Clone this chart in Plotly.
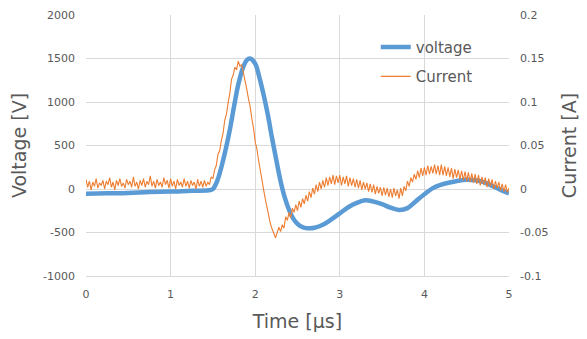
import numpy as np
import plotly.graph_objects as go

# Voltage (V)
v_time = [0, 0.25, 0.5, 0.75, 1.0, 1.25, 1.45, 1.5, 1.55, 1.6, 1.65, 1.7, 1.75, 1.8, 1.85,
          1.9, 1.94, 2.0, 2.05, 2.1, 2.15, 2.2, 2.25, 2.3, 2.35, 2.4, 2.45, 2.5, 2.55, 2.6,
          2.65, 2.7, 2.8, 2.9, 3.0, 3.1, 3.2, 3.3, 3.4, 3.5, 3.6, 3.7, 3.8, 3.9, 4.0, 4.1,
          4.2, 4.3, 4.4, 4.5, 4.6, 4.7, 4.8, 4.9, 5.0]
voltage = [-55, -50, -45, -35, -30, -20, -15, 0, 90, 250, 450, 680, 950, 1200, 1380,
           1480, 1500, 1440, 1280, 1080, 850, 580, 330, 90, -100, -240, -340, -400, -435, -450,
           -452, -445, -410, -350, -280, -210, -160, -130, -145, -175, -215, -240, -220, -140, -60, 10,
           50, 75, 95, 105, 100, 80, 35, -10, -50]

# Current (A) sampled every 0.02 us from the picture
c_step = 0.02
current = [
    0.011, 0.002, 0.009, -0.001, 0.008, 0.003, 0.012, 0.001, 0.007, 0.004,
    0.010, 0.000, 0.009, 0.005, 0.013, 0.002, 0.008, -0.001, 0.010, 0.004,
    0.012, 0.003, 0.007, 0.001, 0.011, 0.005, 0.009, 0.002, 0.014, 0.003,
    0.008, 0.000, 0.010, 0.004, 0.012, 0.002, 0.009, 0.005, 0.015, 0.003,
    0.009, 0.001, 0.011, 0.004, 0.008, 0.002, 0.013, 0.005, 0.010, 0.001,
    0.012, 0.003, 0.009, 0.000, 0.011, 0.004, 0.008, 0.002, 0.012, 0.003,
    0.009, 0.001, 0.010, 0.004, 0.008, 0.000, 0.011, 0.003, 0.009, 0.002,
    0.010, 0.003, 0.008, 0.005, 0.014, 0.012, 0.022, 0.027, 0.040, 0.044,
    0.056, 0.064, 0.079, 0.086, 0.099, 0.110, 0.126, 0.131, 0.140, 0.137,
    0.147, 0.141, 0.143, 0.134, 0.128, 0.115, 0.104, 0.095, 0.081, 0.070,
    0.054, 0.046, 0.033, 0.021, 0.006, -0.001, -0.012, -0.022, -0.034, -0.040,
    -0.046, -0.051, -0.056, -0.050, -0.044, -0.049, -0.041, -0.045, -0.032, -0.036,
    -0.027, -0.033, -0.022, -0.027, -0.018, -0.025, -0.014, -0.021, -0.011, -0.017,
    -0.007, -0.014, -0.003, -0.010, 0.001, -0.006, 0.005, -0.003, 0.008, 0.000,
    0.010, 0.002, 0.013, 0.004, 0.014, 0.006, 0.016, 0.005, 0.015, 0.007,
    0.016, 0.004, 0.014, 0.006, 0.015, 0.003, 0.013, 0.004, 0.012, 0.002,
    0.011, 0.001, 0.010, -0.001, 0.008, 0.000, 0.007, -0.003, 0.006, -0.004,
    0.005, -0.006, 0.003, -0.005, 0.002, -0.008, 0.002, -0.007, 0.001, -0.009,
    0.000, -0.010, 0.001, -0.008, -0.001, -0.011, 0.001, -0.008, 0.003, -0.002,
    0.009, 0.003, 0.013, 0.008, 0.017, 0.011, 0.021, 0.013, 0.024, 0.015,
    0.025, 0.016, 0.027, 0.017, 0.026, 0.018, 0.028, 0.017, 0.027, 0.016,
    0.028, 0.016, 0.026, 0.015, 0.025, 0.014, 0.024, 0.012, 0.023, 0.013,
    0.022, 0.011, 0.021, 0.010, 0.020, 0.009, 0.019, 0.008, 0.018, 0.007,
    0.017, 0.006, 0.016, 0.004, 0.014, 0.005, 0.013, 0.002, 0.012, 0.003,
    0.011, 0.000, 0.009, 0.001, 0.008, -0.002, 0.006, -0.003, 0.005, -0.004,
    0.001,
]
c_time = np.round(np.arange(len(current)) * c_step, 2)

x_ticks = [0, 1, 2, 3, 4, 5]
y1_ticks = [-1000, -500, 0, 500, 1000, 1500, 2000]
y1_text = ["-1000", "-500", "0", "500", "1000", "1500", "2000"]
y2_ticks = [-0.1, -0.05, 0, 0.05, 0.1, 0.15, 0.2]
y2_text = ["-0.1", "-0.05", "0", "0.05", "0.1", "0.15", "0.2"]

grey = "#595959"
grid = "#d9d9d9"
fam = "DejaVu Sans, Verdana, sans-serif"

fig = go.Figure()
fig.add_trace(go.Scatter(x=v_time, y=voltage, name="voltage", mode="lines", legendgroup="v",
                         line=dict(color="#5B9BD5", width=4.5, shape="spline"), yaxis="y"))
fig.add_trace(go.Scatter(x=c_time, y=current, name="Current", mode="lines", legendgroup="c",
                         line=dict(color="#ED7D31", width=1.1), yaxis="y2"))

fig.update_layout(
    width=587, height=339,
    margin=dict(l=78, r=86, t=7, b=71),
    paper_bgcolor="white", plot_bgcolor="white",
    font=dict(family=fam, color=grey),
    xaxis=dict(range=[0, 5], tickvals=x_ticks, showgrid=True, gridcolor=grid, gridwidth=1,
               zeroline=False, showline=True, linecolor=grid, ticks="", ticklabelstandoff=8,
               automargin=False, ticklabeloverflow="allow", tickfont=dict(size=11, color=grey),
               title=dict(text="Time [µs]", font=dict(size=19, color=grey), standoff=14)),
    yaxis=dict(range=[-1000, 2000], tickvals=y1_ticks, ticktext=y1_text, showgrid=True,
               gridcolor=grid, zeroline=False, showline=False, ticks="", ticklabelstandoff=10,
               automargin=False, ticklabeloverflow="allow", tickfont=dict(size=11, color=grey),
               title=dict(text="Voltage [V]", font=dict(size=19, color=grey), standoff=17)),
    yaxis2=dict(range=[-0.1, 0.2], tickvals=y2_ticks, ticktext=y2_text, overlaying="y",
                side="right", showgrid=False, zeroline=False, showline=False, ticks="",
                ticklabelstandoff=10, automargin=False, ticklabeloverflow="allow",
                tickfont=dict(size=11, color=grey),
                title=dict(text="Current [A]", font=dict(size=19, color=grey), standoff=15)),
    legend=dict(x=0.685, y=0.94, xanchor="left", yanchor="top", bgcolor="rgba(0,0,0,0)",
                font=dict(size=15, color=grey), tracegroupgap=7, itemwidth=30),
    showlegend=True,
)

fig.write_html("out.html")
